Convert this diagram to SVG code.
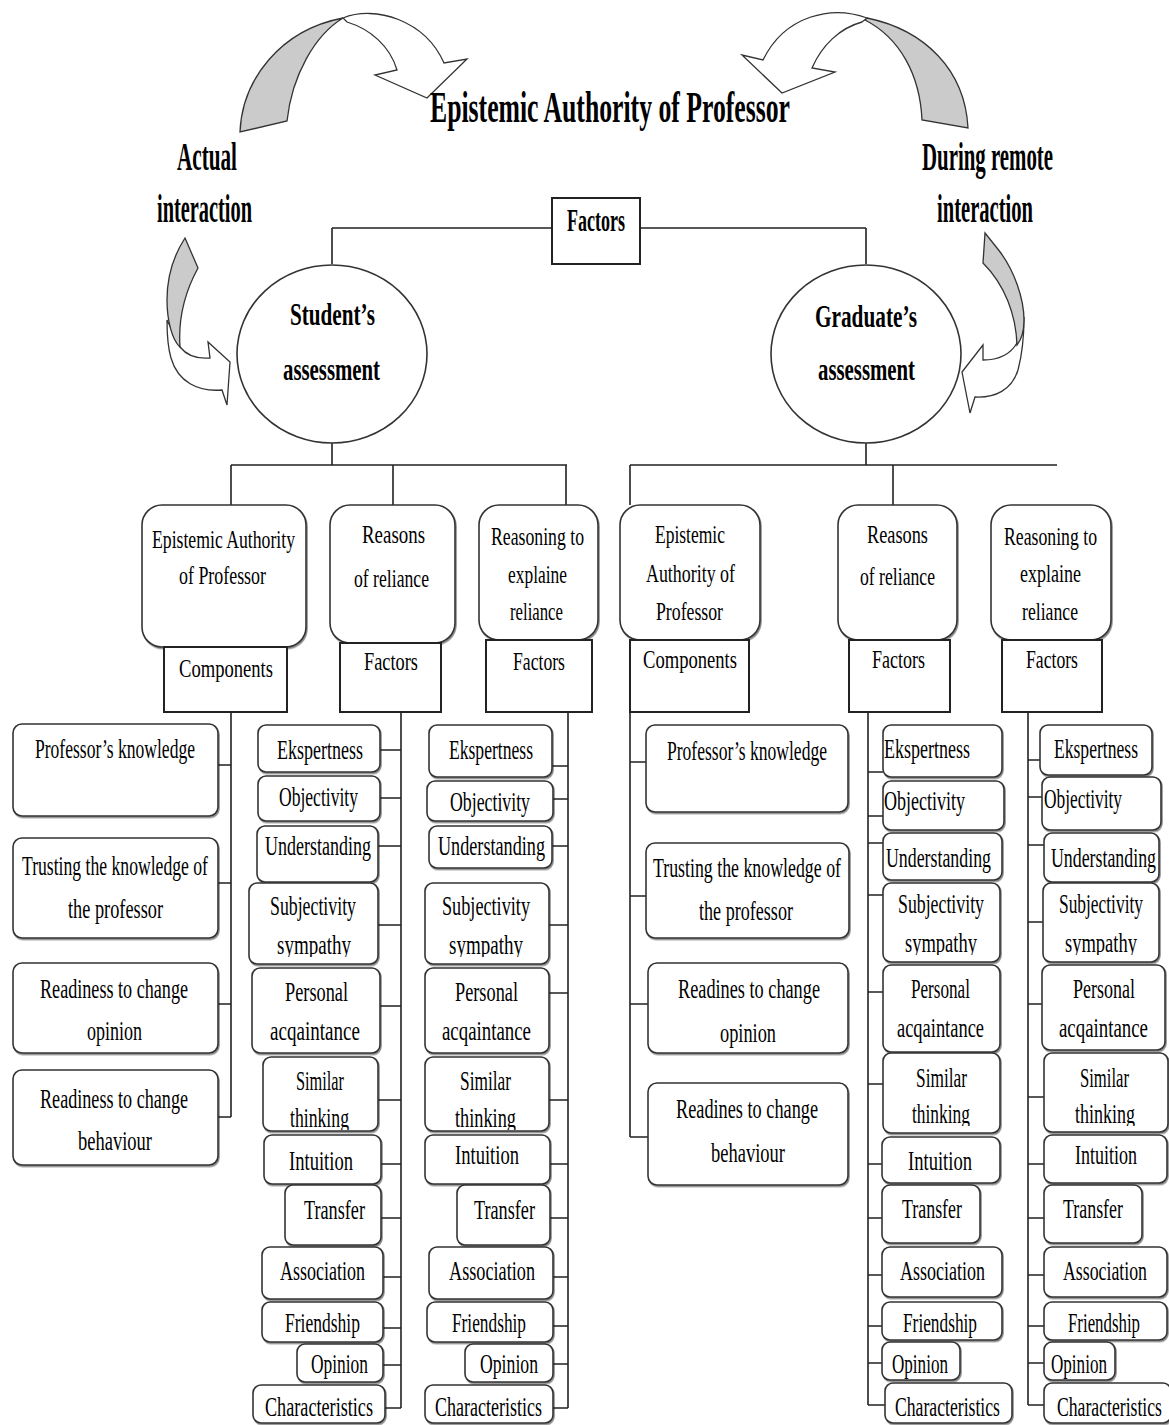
<svg xmlns="http://www.w3.org/2000/svg" width="1169" height="1425" viewBox="0 0 1169 1425">
<style>
.bx{fill:#fff;stroke:#333;stroke-width:1.6;filter:url(#sh)}
.sq{fill:#fff;stroke:#222;stroke-width:2}
.ln{stroke:#222;stroke-width:1.6;fill:none}
.t{font-family:"Liberation Serif","Times New Roman",serif;font-size:17px;fill:#000}
.t2{font-family:"Liberation Serif","Times New Roman",serif;font-size:18px;fill:#000}
.h{font-family:"Liberation Serif","Times New Roman",serif;font-weight:bold;fill:#000}
.gr{fill:#cbcbcb;stroke:#333;stroke-width:1.3}
.wh{fill:#fff;stroke:#333;stroke-width:1.3}
.el{fill:#fff;stroke:#333;stroke-width:1.6}
</style>
<defs>
<filter id="sh" x="-5%" y="-5%" width="115%" height="125%"><feDropShadow dx="1" dy="1.5" stdDeviation="0.6" flood-color="#000" flood-opacity="0.45"/></filter>
<clipPath id="c1"><rect x="0" y="883" width="1169" height="74"/></clipPath>
<clipPath id="c2"><rect x="0" y="1057" width="1169" height="73"/></clipPath>
<clipPath id="c3"><rect x="0" y="883" width="1169" height="72"/></clipPath>
<clipPath id="c4"><rect x="0" y="1053" width="1169" height="73"/></clipPath>
</defs>
<rect width="1169" height="1425" fill="#fff"/>

<g id="arrows">
<path class="gr" d="M240,132 C242,80 280,30 343,18 C315,35 292,75 287,121 Z"/>
<path class="wh" d="M343,18 C375,5 425,20 444,63 L467,59 L427,98 L375,75 L397,70 C390,46 370,29 347,22 Z"/>
<path class="gr" d="M867,18 C925,30 965,70 968,128 L922,120 C920,75 900,38 865,20 Z"/>
<path class="wh" d="M867,18 C832,5 785,15 763,60 L742,55 L782,93 L835,72 L812,68 C822,45 840,28 862,22 Z"/>
<path class="wh" d="M180,347 C188,357 198,359 210,358 L208,342 L230,362 L227,405 L222,390 C198,392 178,382 171,358 C168,348 167,335 167,320 Z"/>
<path class="gr" d="M185,238 L198,268 C186,290 178,318 180,347 C172,340 167,320 167,300 C167,275 174,255 185,238 Z"/>
<path class="wh" d="M1017,343 C1010,355 997,360 983,360 L983,345 L962,372 L970,413 L975,397 C995,398 1012,390 1018,370 C1022,355 1024,335 1024,317 Z"/>
<path class="gr" d="M985,233 L997,248 C1015,270 1024,300 1024,320 C1024,332 1021,340 1017,345 C1016,315 1005,285 983,263 Z"/>
</g>

<g id="labels">
<text class="h" x="430" y="122" font-size="26" transform="matrix(1 0 0 1.7 0 -85.4)" textLength="360" lengthAdjust="spacingAndGlyphs">Epistemic Authority of Professor</text>
<text class="h" x="177" y="170" font-size="21" transform="matrix(1 0 0 1.9 0 -153)" textLength="60" lengthAdjust="spacingAndGlyphs">Actual</text>
<text class="h" x="157" y="222" font-size="21" transform="matrix(1 0 0 1.9 0 -199.8)" textLength="95" lengthAdjust="spacingAndGlyphs">interaction</text>
<text class="h" x="922" y="170" font-size="21" transform="matrix(1 0 0 1.9 0 -153)" textLength="131" lengthAdjust="spacingAndGlyphs">During remote</text>
<text class="h" x="937" y="222" font-size="21" transform="matrix(1 0 0 1.9 0 -199.8)" textLength="96" lengthAdjust="spacingAndGlyphs">interaction</text>
</g>

<g id="connectors">
<path class="ln" d="M332,228 H866 M332,228 V264 M866,228 V264"/>
<path class="ln" d="M332,443 V465 M231,465 H567 M231,465 V505 M393,465 V505 M566,465 V505"/>
<path class="ln" d="M866,443 V465 M630,465 H1057 M630,465 V505 M893,465 V505" stroke-width="2"/>
<path class="ln" d="M231,712 V1117 M218,765 H231 M218,883 H231 M218,1004 H231 M218,1117 H231"/>
<path class="ln" d="M401,712 V1408 M380,750 H401 M380,798 H401 M378,846 H401 M378,925 H401 M380,1006 H401 M378,1100 H401 M381,1164 H401 M381,1218 H401 M383,1277 H401 M383,1328 H401 M383,1365 H401 M385,1408 H401"/>
<path class="ln" d="M568,712 V1408 M552,766 H568 M553,799 H568 M552,846 H568 M549,925 H568 M549,993 H568 M549,1100 H568 M550,1164 H568 M550,1218 H568 M553,1277 H568 M553,1326 H568 M553,1364 H568 M553,1408 H568"/>
<path class="ln" d="M630,712 V1137 M630,762 H646 M630,896 H646 M630,1004 H648 M630,1137 H648"/>
<path class="ln" d="M868,712 V1405 M868,772 H883 M868,816 H883 M868,843 H883 M868,895 H883 M868,992 H883 M868,1084 H883 M868,1164 H882 M868,1218 H882 M868,1275 H882 M868,1326 H882 M868,1363 H882 M868,1405 H885"/>
<path class="ln" d="M1028,712 V1405 M1028,760 H1040 M1028,797 H1042 M1028,845 H1044 M1028,922 H1043 M1028,1004 H1042 M1028,1097 H1044 M1028,1164 H1044 M1028,1218 H1044 M1028,1275 H1044 M1028,1326 H1044 M1028,1363 H1044 M1028,1405 H1044"/>
</g>

<g id="n-factors-top"><rect class="sq" x="552" y="198" width="88" height="66"/><text class="h" x="567" y="231" font-size="18" transform="matrix(1 0 0 1.7 0 -161.7)" textLength="58" lengthAdjust="spacingAndGlyphs">Factors</text></g>
<g id="n-student"><ellipse class="el" cx="332" cy="354" rx="95" ry="89"/><text class="h" x="290" y="325" font-size="21" transform="matrix(1 0 0 1.55 0 -178.75)" textLength="85" lengthAdjust="spacingAndGlyphs">Student’s</text><text class="h" x="283" y="380" font-size="21" transform="matrix(1 0 0 1.55 0 -209)" textLength="97" lengthAdjust="spacingAndGlyphs">assessment</text></g>
<g id="n-graduate"><ellipse class="el" cx="866" cy="354" rx="95" ry="89"/><text class="h" x="815" y="327" font-size="21" transform="matrix(1 0 0 1.55 0 -179.85)" textLength="102" lengthAdjust="spacingAndGlyphs">Graduate’s</text><text class="h" x="818" y="380" font-size="21" transform="matrix(1 0 0 1.55 0 -209)" textLength="97" lengthAdjust="spacingAndGlyphs">assessment</text></g>

<g id="n-l-ea"><rect class="bx" x="142" y="505" width="164" height="142" rx="20"/><text class="t2" x="152" y="548" transform="matrix(1 0 0 1.45 0 -246.6)" textLength="143" lengthAdjust="spacingAndGlyphs">Epistemic Authority</text><text class="t2" x="179" y="584" transform="matrix(1 0 0 1.45 0 -262.8)" textLength="87" lengthAdjust="spacingAndGlyphs">of Professor</text></g>
<g id="n-l-comp"><rect class="sq" x="164" y="647" width="123" height="65"/><text class="t2" x="179" y="677" transform="matrix(1 0 0 1.45 0 -304.65)" textLength="94" lengthAdjust="spacingAndGlyphs">Components</text></g>
<g id="n-l-reas"><rect class="bx" x="330" y="505" width="125" height="138" rx="20"/><text class="t2" x="362" y="543" transform="matrix(1 0 0 1.45 0 -244.35)" textLength="63" lengthAdjust="spacingAndGlyphs">Reasons</text><text class="t2" x="354" y="587" transform="matrix(1 0 0 1.45 0 -264.15)" textLength="75" lengthAdjust="spacingAndGlyphs">of reliance</text></g>
<g id="n-l-fac1"><rect class="sq" x="340" y="643" width="101" height="69"/><text class="t2" x="364" y="670" transform="matrix(1 0 0 1.45 0 -301.5)" textLength="54" lengthAdjust="spacingAndGlyphs">Factors</text></g>
<g id="n-l-rsn"><rect class="bx" x="479" y="505" width="119" height="135" rx="20"/><text class="t2" x="491" y="545" transform="matrix(1 0 0 1.45 0 -245.25)" textLength="93" lengthAdjust="spacingAndGlyphs">Reasoning to</text><text class="t2" x="508" y="583" transform="matrix(1 0 0 1.45 0 -262.35)" textLength="59" lengthAdjust="spacingAndGlyphs">explaine</text><text class="t2" x="510" y="620" transform="matrix(1 0 0 1.45 0 -279)" textLength="53" lengthAdjust="spacingAndGlyphs">reliance</text></g>
<g id="n-l-fac2"><rect class="sq" x="486" y="640" width="106" height="72"/><text class="t2" x="513" y="670" transform="matrix(1 0 0 1.45 0 -301.5)" textLength="52" lengthAdjust="spacingAndGlyphs">Factors</text></g>

<g id="n-r-ea"><rect class="bx" x="620" y="505" width="140" height="135" rx="20"/><text class="t2" x="655" y="543" transform="matrix(1 0 0 1.45 0 -244.35)" textLength="70" lengthAdjust="spacingAndGlyphs">Epistemic</text><text class="t2" x="646" y="582" transform="matrix(1 0 0 1.45 0 -261.9)" textLength="89" lengthAdjust="spacingAndGlyphs">Authority of</text><text class="t2" x="656" y="620" transform="matrix(1 0 0 1.45 0 -279)" textLength="67" lengthAdjust="spacingAndGlyphs">Professor</text></g>
<g id="n-r-comp"><rect class="sq" x="630" y="640" width="119" height="72"/><text class="t2" x="643" y="668" transform="matrix(1 0 0 1.45 0 -300.6)" textLength="94" lengthAdjust="spacingAndGlyphs">Components</text></g>
<g id="n-r-reas"><rect class="bx" x="838" y="505" width="119" height="135" rx="20"/><text class="t2" x="867" y="543" transform="matrix(1 0 0 1.45 0 -244.35)" textLength="61" lengthAdjust="spacingAndGlyphs">Reasons</text><text class="t2" x="860" y="585" transform="matrix(1 0 0 1.45 0 -263.25)" textLength="75" lengthAdjust="spacingAndGlyphs">of reliance</text></g>
<g id="n-r-fac1"><rect class="sq" x="849" y="640" width="101" height="72"/><text class="t2" x="872" y="668" transform="matrix(1 0 0 1.45 0 -300.6)" textLength="53" lengthAdjust="spacingAndGlyphs">Factors</text></g>
<g id="n-r-rsn"><rect class="bx" x="991" y="505" width="120" height="135" rx="20"/><text class="t2" x="1004" y="545" transform="matrix(1 0 0 1.45 0 -245.25)" textLength="93" lengthAdjust="spacingAndGlyphs">Reasoning to</text><text class="t2" x="1020" y="582" transform="matrix(1 0 0 1.45 0 -261.9)" textLength="61" lengthAdjust="spacingAndGlyphs">explaine</text><text class="t2" x="1022" y="620" transform="matrix(1 0 0 1.45 0 -279)" textLength="56" lengthAdjust="spacingAndGlyphs">reliance</text></g>
<g id="n-r-fac2"><rect class="sq" x="1002" y="640" width="100" height="72"/><text class="t2" x="1026" y="668" transform="matrix(1 0 0 1.45 0 -300.6)" textLength="52" lengthAdjust="spacingAndGlyphs">Factors</text></g>

<!-- left column 1 -->
<g id="n-l-pk"><rect class="bx" x="13" y="724" width="205" height="92" rx="9"/><text class="t" x="35" y="758" transform="matrix(1 0 0 1.65 0 -492.7)" textLength="160" lengthAdjust="spacingAndGlyphs">Professor’s knowledge</text></g>
<g id="n-l-trust"><rect class="bx" x="13" y="838" width="205" height="100" rx="9"/><text class="t" x="22" y="875" transform="matrix(1 0 0 1.65 0 -568.75)" textLength="186" lengthAdjust="spacingAndGlyphs">Trusting the knowledge of</text><text class="t" x="68" y="918" transform="matrix(1 0 0 1.65 0 -596.7)" textLength="95" lengthAdjust="spacingAndGlyphs">the professor</text></g>
<g id="n-l-rop"><rect class="bx" x="13" y="963" width="205" height="90" rx="9"/><text class="t" x="40" y="998" transform="matrix(1 0 0 1.65 0 -648.7)" textLength="148" lengthAdjust="spacingAndGlyphs">Readiness to change</text><text class="t" x="87" y="1040" transform="matrix(1 0 0 1.65 0 -676)" textLength="55" lengthAdjust="spacingAndGlyphs">opinion</text></g>
<g id="n-l-rbe"><rect class="bx" x="13" y="1070" width="205" height="95" rx="9"/><text class="t" x="40" y="1108" transform="matrix(1 0 0 1.65 0 -720.2)" textLength="148" lengthAdjust="spacingAndGlyphs">Readiness to change</text><text class="t" x="78" y="1150" transform="matrix(1 0 0 1.65 0 -747.5)" textLength="74" lengthAdjust="spacingAndGlyphs">behaviour</text></g>

<!-- left column 2 -->
<g id="n-l2-eks"><rect class="bx" x="258" y="725" width="122" height="47" rx="8"/><text class="t" x="277" y="759" transform="matrix(1 0 0 1.65 0 -493.35)" textLength="86" lengthAdjust="spacingAndGlyphs">Ekspertness</text></g>
<g id="n-l2-obj"><rect class="bx" x="258" y="776" width="122" height="45" rx="8"/><text class="t" x="279" y="806" transform="matrix(1 0 0 1.65 0 -523.9)" textLength="79" lengthAdjust="spacingAndGlyphs">Objectivity</text></g>
<g id="n-l2-und"><rect class="bx" x="257" y="826" width="121" height="56" rx="8"/><text class="t" x="265" y="855" transform="matrix(1 0 0 1.65 0 -555.75)" textLength="106" lengthAdjust="spacingAndGlyphs">Understanding</text></g>
<g id="n-l2-sub"><rect class="bx" x="249" y="883" width="129" height="81" rx="8"/><text class="t" x="270" y="915" transform="matrix(1 0 0 1.65 0 -594.75)" textLength="86" lengthAdjust="spacingAndGlyphs">Subjectivity</text><g clip-path="url(#c1)"><text class="t" x="277" y="954" transform="matrix(1 0 0 1.65 0 -620.1)" textLength="74" lengthAdjust="spacingAndGlyphs">sympathy</text></g></g>
<g id="n-l2-per"><rect class="bx" x="252" y="968" width="128" height="85" rx="8"/><text class="t" x="285" y="1001" transform="matrix(1 0 0 1.65 0 -650.65)" textLength="63" lengthAdjust="spacingAndGlyphs">Personal</text><text class="t" x="270" y="1040" transform="matrix(1 0 0 1.65 0 -676)" textLength="90" lengthAdjust="spacingAndGlyphs">acqaintance</text></g>
<g id="n-l2-sim"><rect class="bx" x="263" y="1057" width="115" height="74" rx="8"/><text class="t" x="296" y="1090" transform="matrix(1 0 0 1.65 0 -708.5)" textLength="48" lengthAdjust="spacingAndGlyphs">Similar</text><g clip-path="url(#c2)"><text class="t" x="290" y="1127" transform="matrix(1 0 0 1.65 0 -732.55)" textLength="59" lengthAdjust="spacingAndGlyphs">thinking</text></g></g>
<g id="n-l2-int"><rect class="bx" x="264" y="1135" width="117" height="49" rx="8"/><text class="t" x="289" y="1170" transform="matrix(1 0 0 1.65 0 -760.5)" textLength="64" lengthAdjust="spacingAndGlyphs">Intuition</text></g>
<g id="n-l2-tra"><rect class="bx" x="285" y="1185" width="96" height="60" rx="8"/><text class="t" x="304" y="1219" transform="matrix(1 0 0 1.65 0 -792.35)" textLength="61" lengthAdjust="spacingAndGlyphs">Transfer</text></g>
<g id="n-l2-ass"><rect class="bx" x="262" y="1247" width="121" height="52" rx="8"/><text class="t" x="280" y="1280" transform="matrix(1 0 0 1.65 0 -832)" textLength="85" lengthAdjust="spacingAndGlyphs">Association</text></g>
<g id="n-l2-fri"><rect class="bx" x="262" y="1302" width="121" height="40" rx="8"/><text class="t" x="285" y="1332" transform="matrix(1 0 0 1.65 0 -865.8)" textLength="75" lengthAdjust="spacingAndGlyphs">Friendship</text></g>
<g id="n-l2-opi"><rect class="bx" x="297" y="1344" width="86" height="38" rx="8"/><text class="t" x="311" y="1373" transform="matrix(1 0 0 1.65 0 -892.45)" textLength="57" lengthAdjust="spacingAndGlyphs">Opinion</text></g>
<g id="n-l2-cha"><rect class="bx" x="253" y="1385" width="132" height="38" rx="8"/><text class="t" x="265" y="1416" transform="matrix(1 0 0 1.65 0 -920.4)" textLength="108" lengthAdjust="spacingAndGlyphs">Characteristics</text></g>

<!-- left column 3 -->
<g id="n-l3-eks"><rect class="bx" x="429" y="725" width="123" height="52" rx="8"/><text class="t" x="449" y="759" transform="matrix(1 0 0 1.65 0 -493.35)" textLength="84" lengthAdjust="spacingAndGlyphs">Ekspertness</text></g>
<g id="n-l3-obj"><rect class="bx" x="427" y="781" width="126" height="40" rx="8"/><text class="t" x="450" y="811" transform="matrix(1 0 0 1.65 0 -527.15)" textLength="80" lengthAdjust="spacingAndGlyphs">Objectivity</text></g>
<g id="n-l3-und"><rect class="bx" x="429" y="826" width="123" height="42" rx="8"/><text class="t" x="438" y="855" transform="matrix(1 0 0 1.65 0 -555.75)" textLength="107" lengthAdjust="spacingAndGlyphs">Understanding</text></g>
<g id="n-l3-sub"><rect class="bx" x="425" y="883" width="124" height="81" rx="8"/><text class="t" x="442" y="915" transform="matrix(1 0 0 1.65 0 -594.75)" textLength="88" lengthAdjust="spacingAndGlyphs">Subjectivity</text><g clip-path="url(#c1)"><text class="t" x="449" y="954" transform="matrix(1 0 0 1.65 0 -620.1)" textLength="74" lengthAdjust="spacingAndGlyphs">sympathy</text></g></g>
<g id="n-l3-per"><rect class="bx" x="425" y="968" width="124" height="85" rx="8"/><text class="t" x="455" y="1001" transform="matrix(1 0 0 1.65 0 -650.65)" textLength="63" lengthAdjust="spacingAndGlyphs">Personal</text><text class="t" x="442" y="1040" transform="matrix(1 0 0 1.65 0 -676)" textLength="89" lengthAdjust="spacingAndGlyphs">acqaintance</text></g>
<g id="n-l3-sim"><rect class="bx" x="425" y="1057" width="124" height="74" rx="8"/><text class="t" x="460" y="1090" transform="matrix(1 0 0 1.65 0 -708.5)" textLength="51" lengthAdjust="spacingAndGlyphs">Similar</text><g clip-path="url(#c2)"><text class="t" x="455" y="1127" transform="matrix(1 0 0 1.65 0 -732.55)" textLength="61" lengthAdjust="spacingAndGlyphs">thinking</text></g></g>
<g id="n-l3-int"><rect class="bx" x="425" y="1135" width="125" height="49" rx="8"/><text class="t" x="455" y="1164" transform="matrix(1 0 0 1.65 0 -756.6)" textLength="64" lengthAdjust="spacingAndGlyphs">Intuition</text></g>
<g id="n-l3-tra"><rect class="bx" x="457" y="1185" width="93" height="60" rx="8"/><text class="t" x="474" y="1219" transform="matrix(1 0 0 1.65 0 -792.35)" textLength="61" lengthAdjust="spacingAndGlyphs">Transfer</text></g>
<g id="n-l3-ass"><rect class="bx" x="429" y="1247" width="124" height="52" rx="8"/><text class="t" x="449" y="1280" transform="matrix(1 0 0 1.65 0 -832)" textLength="86" lengthAdjust="spacingAndGlyphs">Association</text></g>
<g id="n-l3-fri"><rect class="bx" x="427" y="1302" width="126" height="40" rx="8"/><text class="t" x="452" y="1332" transform="matrix(1 0 0 1.65 0 -865.8)" textLength="74" lengthAdjust="spacingAndGlyphs">Friendship</text></g>
<g id="n-l3-opi"><rect class="bx" x="465" y="1344" width="88" height="38" rx="8"/><text class="t" x="480" y="1373" transform="matrix(1 0 0 1.65 0 -892.45)" textLength="58" lengthAdjust="spacingAndGlyphs">Opinion</text></g>
<g id="n-l3-cha"><rect class="bx" x="425" y="1385" width="128" height="38" rx="8"/><text class="t" x="435" y="1416" transform="matrix(1 0 0 1.65 0 -920.4)" textLength="107" lengthAdjust="spacingAndGlyphs">Characteristics</text></g>

<!-- right column 1 -->
<g id="n-r-pk"><rect class="bx" x="646" y="725" width="202" height="87" rx="9"/><text class="t" x="667" y="760" transform="matrix(1 0 0 1.65 0 -494)" textLength="160" lengthAdjust="spacingAndGlyphs">Professor’s knowledge</text></g>
<g id="n-r-trust"><rect class="bx" x="646" y="843" width="203" height="95" rx="9"/><text class="t" x="653" y="877" transform="matrix(1 0 0 1.65 0 -570.05)" textLength="188" lengthAdjust="spacingAndGlyphs">Trusting the knowledge of</text><text class="t" x="699" y="920" transform="matrix(1 0 0 1.65 0 -598)" textLength="94" lengthAdjust="spacingAndGlyphs">the professor</text></g>
<g id="n-r-rop"><rect class="bx" x="648" y="963" width="200" height="90" rx="9"/><text class="t" x="678" y="998" transform="matrix(1 0 0 1.65 0 -648.7)" textLength="142" lengthAdjust="spacingAndGlyphs">Readines to change</text><text class="t" x="720" y="1042" transform="matrix(1 0 0 1.65 0 -677.3)" textLength="56" lengthAdjust="spacingAndGlyphs">opinion</text></g>
<g id="n-r-rbe"><rect class="bx" x="648" y="1083" width="200" height="102" rx="9"/><text class="t" x="676" y="1118" transform="matrix(1 0 0 1.65 0 -726.7)" textLength="142" lengthAdjust="spacingAndGlyphs">Readines to change</text><text class="t" x="711" y="1162" transform="matrix(1 0 0 1.65 0 -755.3)" textLength="74" lengthAdjust="spacingAndGlyphs">behaviour</text></g>

<!-- right column 2 -->
<g id="n-r2-eks"><rect class="bx" x="883" y="725" width="119" height="52" rx="8"/><text class="t" x="884" y="758" transform="matrix(1 0 0 1.65 0 -492.7)" textLength="86" lengthAdjust="spacingAndGlyphs">Ekspertness</text></g>
<g id="n-r2-obj"><rect class="bx" x="883" y="781" width="121" height="49" rx="8"/><text class="t" x="884" y="810" transform="matrix(1 0 0 1.65 0 -526.5)" textLength="81" lengthAdjust="spacingAndGlyphs">Objectivity</text></g>
<g id="n-r2-und"><rect class="bx" x="883" y="833" width="119" height="47" rx="8"/><text class="t" x="886" y="867" transform="matrix(1 0 0 1.65 0 -563.55)" textLength="105" lengthAdjust="spacingAndGlyphs">Understanding</text></g>
<g id="n-r2-sub"><rect class="bx" x="883" y="883" width="117" height="79" rx="8"/><text class="t" x="898" y="913" transform="matrix(1 0 0 1.65 0 -593.45)" textLength="86" lengthAdjust="spacingAndGlyphs">Subjectivity</text><g clip-path="url(#c3)"><text class="t" x="905" y="952" transform="matrix(1 0 0 1.65 0 -618.8)" textLength="72" lengthAdjust="spacingAndGlyphs">sympathy</text></g></g>
<g id="n-r2-per"><rect class="bx" x="883" y="965" width="117" height="87" rx="8"/><text class="t" x="911" y="998" transform="matrix(1 0 0 1.65 0 -648.7)" textLength="59" lengthAdjust="spacingAndGlyphs">Personal</text><text class="t" x="897" y="1037" transform="matrix(1 0 0 1.65 0 -674.05)" textLength="87" lengthAdjust="spacingAndGlyphs">acqaintance</text></g>
<g id="n-r2-sim"><rect class="bx" x="883" y="1053" width="117" height="80" rx="8"/><text class="t" x="916" y="1087" transform="matrix(1 0 0 1.65 0 -706.55)" textLength="51" lengthAdjust="spacingAndGlyphs">Similar</text><g clip-path="url(#c4)"><text class="t" x="912" y="1123" transform="matrix(1 0 0 1.65 0 -729.95)" textLength="58" lengthAdjust="spacingAndGlyphs">thinking</text></g></g>
<g id="n-r2-int"><rect class="bx" x="882" y="1137" width="118" height="46" rx="8"/><text class="t" x="908" y="1170" transform="matrix(1 0 0 1.65 0 -760.5)" textLength="64" lengthAdjust="spacingAndGlyphs">Intuition</text></g>
<g id="n-r2-tra"><rect class="bx" x="882" y="1185" width="98" height="58" rx="8"/><text class="t" x="902" y="1218" transform="matrix(1 0 0 1.65 0 -791.7)" textLength="60" lengthAdjust="spacingAndGlyphs">Transfer</text></g>
<g id="n-r2-ass"><rect class="bx" x="882" y="1247" width="120" height="50" rx="8"/><text class="t" x="900" y="1280" transform="matrix(1 0 0 1.65 0 -832)" textLength="85" lengthAdjust="spacingAndGlyphs">Association</text></g>
<g id="n-r2-fri"><rect class="bx" x="882" y="1302" width="120" height="38" rx="8"/><text class="t" x="903" y="1332" transform="matrix(1 0 0 1.65 0 -865.8)" textLength="74" lengthAdjust="spacingAndGlyphs">Friendship</text></g>
<g id="n-r2-opi"><rect class="bx" x="882" y="1342" width="78" height="38" rx="8"/><text class="t" x="892" y="1373" transform="matrix(1 0 0 1.65 0 -892.45)" textLength="56" lengthAdjust="spacingAndGlyphs">Opinion</text></g>
<g id="n-r2-cha"><rect class="bx" x="885" y="1383" width="127" height="40" rx="8"/><text class="t" x="895" y="1416" transform="matrix(1 0 0 1.65 0 -920.4)" textLength="105" lengthAdjust="spacingAndGlyphs">Characteristics</text></g>

<!-- right column 3 -->
<g id="n-r3-eks"><rect class="bx" x="1040" y="725" width="112" height="50" rx="8"/><text class="t" x="1054" y="758" transform="matrix(1 0 0 1.65 0 -492.7)" textLength="84" lengthAdjust="spacingAndGlyphs">Ekspertness</text></g>
<g id="n-r3-obj"><rect class="bx" x="1042" y="777" width="119" height="53" rx="8"/><text class="t" x="1044" y="808" transform="matrix(1 0 0 1.65 0 -525.2)" textLength="78" lengthAdjust="spacingAndGlyphs">Objectivity</text></g>
<g id="n-r3-und"><rect class="bx" x="1044" y="833" width="115" height="49" rx="8"/><text class="t" x="1051" y="867" transform="matrix(1 0 0 1.65 0 -563.55)" textLength="105" lengthAdjust="spacingAndGlyphs">Understanding</text></g>
<g id="n-r3-sub"><rect class="bx" x="1043" y="883" width="116" height="79" rx="8"/><text class="t" x="1059" y="913" transform="matrix(1 0 0 1.65 0 -593.45)" textLength="84" lengthAdjust="spacingAndGlyphs">Subjectivity</text><g clip-path="url(#c3)"><text class="t" x="1065" y="952" transform="matrix(1 0 0 1.65 0 -618.8)" textLength="72" lengthAdjust="spacingAndGlyphs">sympathy</text></g></g>
<g id="n-r3-per"><rect class="bx" x="1042" y="965" width="123" height="85" rx="8"/><text class="t" x="1073" y="998" transform="matrix(1 0 0 1.65 0 -648.7)" textLength="62" lengthAdjust="spacingAndGlyphs">Personal</text><text class="t" x="1059" y="1037" transform="matrix(1 0 0 1.65 0 -674.05)" textLength="89" lengthAdjust="spacingAndGlyphs">acqaintance</text></g>
<g id="n-r3-sim"><rect class="bx" x="1044" y="1053" width="124" height="79" rx="8"/><text class="t" x="1080" y="1087" transform="matrix(1 0 0 1.65 0 -706.55)" textLength="49" lengthAdjust="spacingAndGlyphs">Similar</text><g clip-path="url(#c4)"><text class="t" x="1075" y="1123" transform="matrix(1 0 0 1.65 0 -729.95)" textLength="60" lengthAdjust="spacingAndGlyphs">thinking</text></g></g>
<g id="n-r3-int"><rect class="bx" x="1044" y="1135" width="123" height="48" rx="8"/><text class="t" x="1075" y="1164" transform="matrix(1 0 0 1.65 0 -756.6)" textLength="62" lengthAdjust="spacingAndGlyphs">Intuition</text></g>
<g id="n-r3-tra"><rect class="bx" x="1044" y="1185" width="98" height="58" rx="8"/><text class="t" x="1063" y="1218" transform="matrix(1 0 0 1.65 0 -791.7)" textLength="60" lengthAdjust="spacingAndGlyphs">Transfer</text></g>
<g id="n-r3-ass"><rect class="bx" x="1044" y="1247" width="123" height="50" rx="8"/><text class="t" x="1063" y="1280" transform="matrix(1 0 0 1.65 0 -832)" textLength="84" lengthAdjust="spacingAndGlyphs">Association</text></g>
<g id="n-r3-fri"><rect class="bx" x="1044" y="1302" width="123" height="38" rx="8"/><text class="t" x="1068" y="1332" transform="matrix(1 0 0 1.65 0 -865.8)" textLength="72" lengthAdjust="spacingAndGlyphs">Friendship</text></g>
<g id="n-r3-opi"><rect class="bx" x="1044" y="1342" width="71" height="38" rx="8"/><text class="t" x="1051" y="1373" transform="matrix(1 0 0 1.65 0 -892.45)" textLength="56" lengthAdjust="spacingAndGlyphs">Opinion</text></g>
<g id="n-r3-cha"><rect class="bx" x="1044" y="1383" width="127" height="40" rx="8"/><text class="t" x="1057" y="1416" transform="matrix(1 0 0 1.65 0 -920.4)" textLength="105" lengthAdjust="spacingAndGlyphs">Characteristics</text></g>
</svg>
